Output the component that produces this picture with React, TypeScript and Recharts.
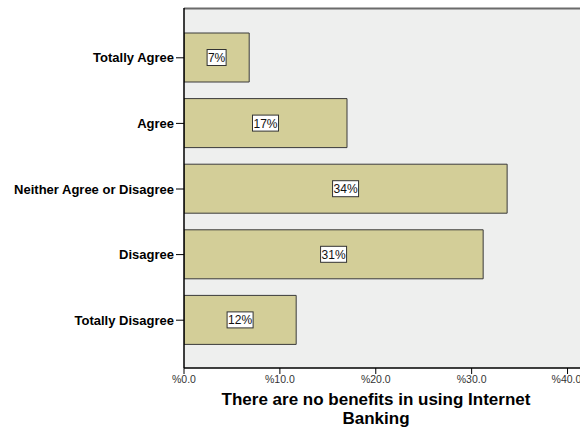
import React from "react";
import { BarChart, Bar, XAxis, YAxis, CartesianGrid, LabelList } from "recharts";

const categories = [
  "Totally Agree",
  "Agree",
  "Neither Agree or Disagree",
  "Disagree",
  "Totally Disagree",
];
const percents = [6.8, 17.0, 33.7, 31.2, 11.7];
const xTicks = [0, 10, 20, 30, 40];
const titleLines = ["There are no benefits in using Internet", "Banking"];

const data = categories.map((name, i) => ({ name, value: percents[i] }));

const FONT = "'Liberation Sans', Arial, sans-serif";

const ValueBox = (props: any) => {
  const { x, y, width, height, value } = props;
  const text = `${Math.round(value)}%`;
  const w = text.length * 7 + 5;
  const h = 16;
  const cx = x + width / 2;
  const cy = y + height / 2;
  return (
    <g>
      <rect x={cx - w / 2} y={cy - h / 2} width={w} height={h} fill="#ffffff" stroke="#333333" strokeWidth={1} />
      <text x={cx} y={cy + 4.5} textAnchor="middle" fontFamily={FONT} fontSize={12} fill="#111111">
        {text}
      </text>
    </g>
  );
};

const AxisTitle = (props: any) => {
  const { viewBox } = props;
  const cx = viewBox.x + viewBox.width / 2 - 6;
  return (
    <text textAnchor="middle" fontFamily={FONT} fontSize={17} fontWeight="bold" fill="#000000">
      <tspan x={cx} y={405}>{titleLines[0]}</tspan>
      <tspan x={cx} y={424}>{titleLines[1]}</tspan>
    </text>
  );
};

export default function App() {
  return (
    <div style={{ position: "absolute", left: 0, top: 0, width: 580, height: 428, background: "#ffffff" }}>
      <BarChart
        width={580}
        height={428}
        data={data}
        layout="vertical"
        margin={{ top: 8, right: 0, bottom: 0, left: 0 }}
        barCategoryGap={0}
      >
        <CartesianGrid
          vertical={false}
          horizontal
          horizontalPoints={[8.5]}
          stroke="#6b6b6b"
          strokeWidth={2}
          fill="#EEEFEE"
        />
        <XAxis
          type="number"
          domain={[0, 41.3]}
          ticks={xTicks}
          allowDataOverflow
          height={60}
          tickFormatter={(v: number) => `%${v.toFixed(1)}`}
          tick={{ fontFamily: FONT, fontSize: 10.5, fill: "#333333" }}
          tickSize={6}
          tickMargin={2}
          axisLine={{ stroke: "#000000", strokeWidth: 1.5 }}
          tickLine={{ stroke: "#000000" }}
          label={<AxisTitle />}
        />
        <YAxis
          type="category"
          dataKey="name"
          width={184}
          padding={{ top: 17, bottom: 15 }}
          tick={{ fontFamily: FONT, fontSize: 13, fontWeight: "bold", fill: "#000000" }}
          tickSize={8}
          tickMargin={2}
          axisLine={{ stroke: "#000000", strokeWidth: 1.5 }}
          tickLine={{ stroke: "#000000" }}
        />
        <Bar
          dataKey="value"
          barSize={49}
          fill="#D3CE98"
          stroke="#3a3a3a"
          strokeWidth={1}
          isAnimationActive={false}
        >
          <LabelList dataKey="value" content={<ValueBox />} />
        </Bar>
      </BarChart>
    </div>
  );
}
